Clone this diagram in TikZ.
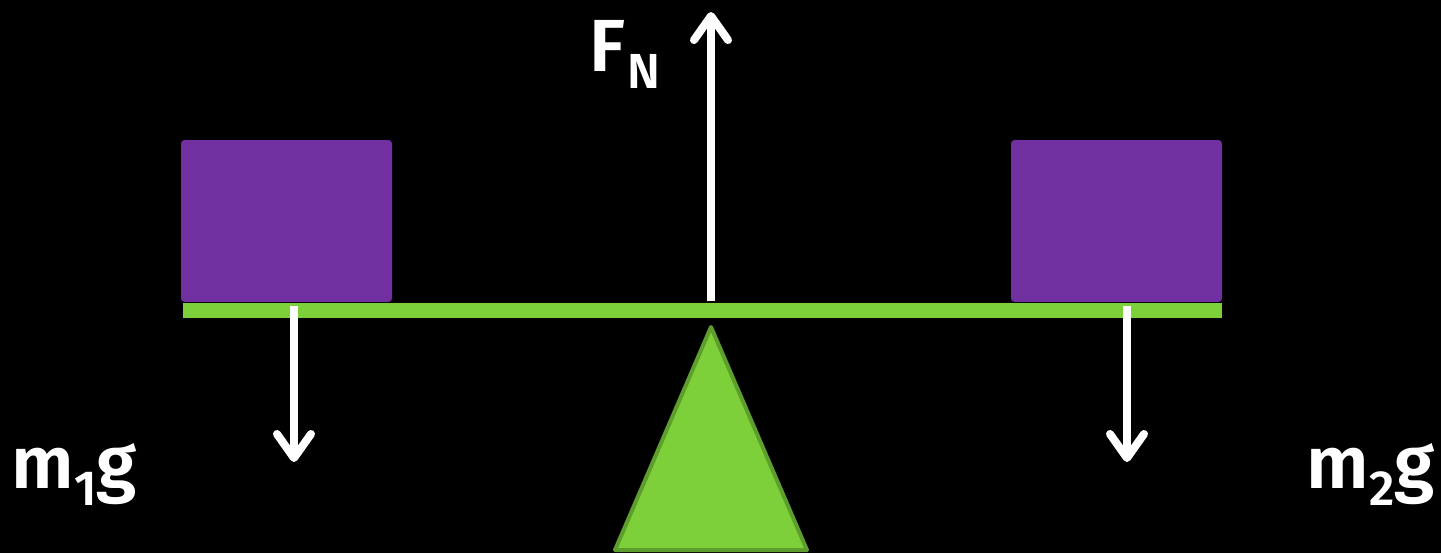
\documentclass[tikz,border=0pt]{standalone}
\usepackage{fontspec}
\setmainfont{Fira Sans}[BoldFont={Fira Sans SemiBold}]
\usepackage{tikz}
\usetikzlibrary{arrows.meta,calc}
\definecolor{beamgreen}{HTML}{7ED03B}
\definecolor{edgegreen}{HTML}{5E9E2C}
\definecolor{boxpurple}{HTML}{7030A0}
\tikzset{
  mass/.style = {fill=boxpurple, rounded corners=1pt},
  force/.style = {draw=white, line width=0.08cm,
    -{Straight Barb[length=0.24cm, width=0.34cm, round]}},
  lbl/.style = {text=white, inner sep=0pt, anchor=base west,
    font=\fontsize{21}{25}\selectfont\bfseries}
}
\newcommand{\lowsub}[1]{\raisebox{-0.17cm}{\fontsize{14}{16}\selectfont #1}}

\begin{document}
\begin{tikzpicture}[x=0.01cm, y=-0.01cm]

  \fill[black] (0,0) rectangle (1441,553);
  \useasboundingbox (0,0) rectangle (1441,553);

  % beam and fulcrum
  \fill[beamgreen] (183,303) rectangle (1222,318);
  \draw[fill=beamgreen, draw=edgegreen, line width=0.04cm, line join=round]
    (711,327) -- (807,550) -- (615,550) -- cycle;

  % the two masses
  \fill[mass] (181,140) rectangle (392,302);
  \fill[mass] (1011,140) rectangle (1222,302);

  % force ends
  \coordinate (pivot) at (711,301);
  \coordinate (fntip) at (711,12);
  \coordinate (lfoot) at (294,306);
  \coordinate (ltip) at (294,462);
  \coordinate (rfoot) at (1127,306);
  \coordinate (rtip) at (1127,462);

  \draw[force] (pivot) -- (fntip);
  \draw[force] (lfoot) -- (ltip);
  \draw[force] (rfoot) -- (rtip);

  \node[lbl] (fn) at (589,71) {F\kern0.03em\lowsub{N}};
  \node[lbl] (m1) at (11,488) {m\lowsub{1}g};
  \node[lbl] (m2) at (1306,488) {m\lowsub{2}g};

\end{tikzpicture}
\end{document}
